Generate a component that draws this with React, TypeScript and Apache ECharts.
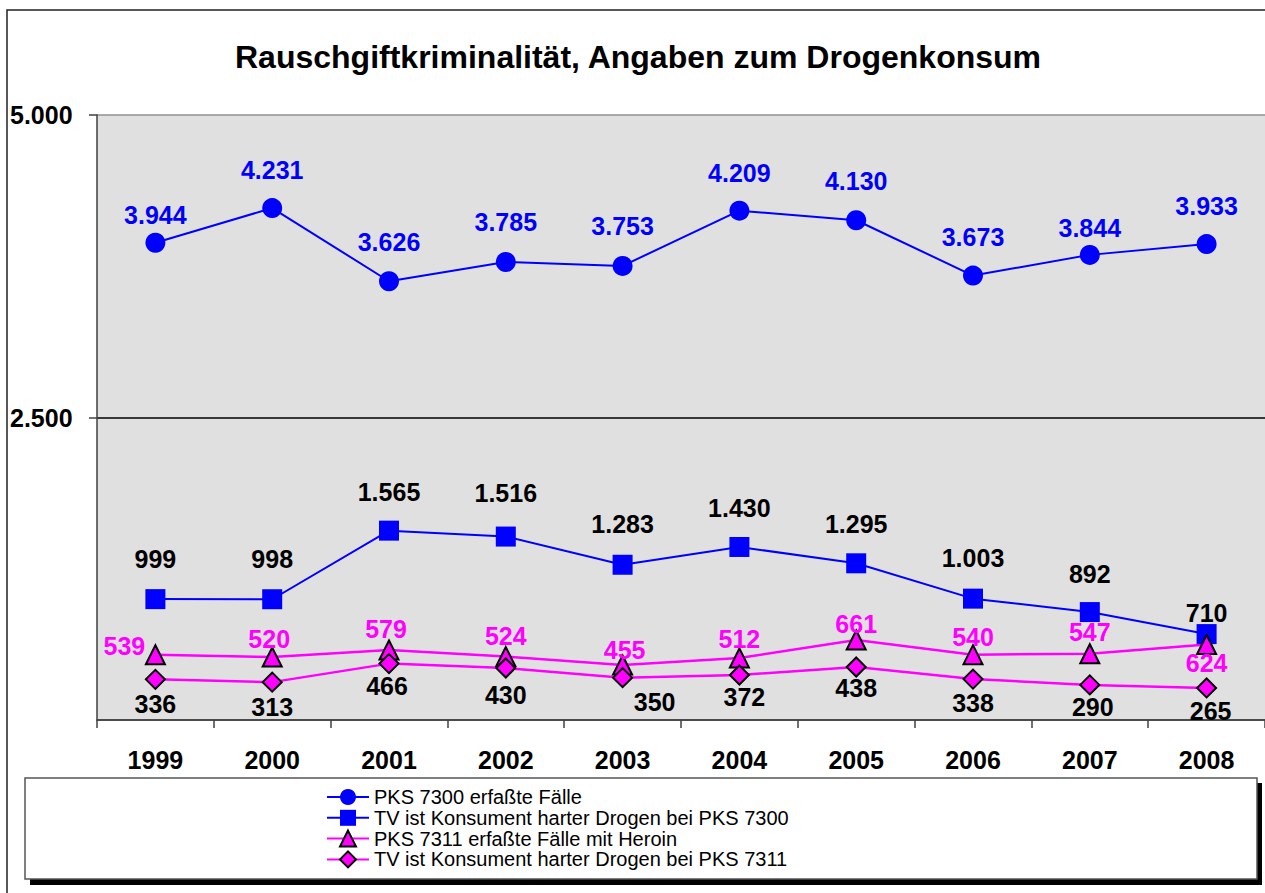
import React, { useEffect, useRef } from "react";
import * as echarts from "echarts";

const years = ["1999", "2000", "2001", "2002", "2003", "2004", "2005", "2006", "2007", "2008"];
const pks7300 = [3944, 4231, 3626, 3785, 3753, 4209, 4130, 3673, 3844, 3933];
const tv7300 = [999, 998, 1565, 1516, 1283, 1430, 1295, 1003, 892, 710];
const pks7311 = [539, 520, 579, 524, 455, 512, 661, 540, 547, 624];
const tv7311 = [336, 313, 466, 430, 350, 372, 438, 338, 290, 265];
const seriesNames = [
  "PKS 7300 erfaßte Fälle",
  "TV ist Konsument harter Drogen bei PKS 7300",
  "PKS 7311 erfaßte Fälle mit Heroin",
  "TV ist Konsument harter Drogen bei PKS 7311",
];
const yTicks = [0, 2500, 5000];
const titleText = "Rauschgiftkriminalität, Angaben zum Drogenkonsum";

// label offsets (styling, not data)
const offCircle = [[0, -28], [0, -38], [0, -39], [0, -40], [0, -40], [0, -38], [0, -39], [0, -39], [0, -27], [0, -38]];
const offSquare = [[0, -40], [0, -40], [0, -39], [0, -44], [0, -41], [0, -39], [0, -39], [0, -41], [0, -38], [0, -21]];
const offTri = [[-31, -9], [-3, -18], [-3, -21], [0, -21], [2, -15], [0, -19], [0, -16], [0, -18], [0, -22], [0, 19]];
const offDia = [[0, 25], [0, 25], [-2, 22], [0, 27], [32, 24], [5, 22], [0, 21], [0, 24], [3, 22], [4, 23]];

const FONT = "'Liberation Sans', Arial, sans-serif";
const fmt = (v: number) => String(v).replace(/\B(?=(\d{3})+(?!\d))/g, ".");

export default function App() {
  const ref = useRef<HTMLDivElement>(null);
  useEffect(() => {
    const chart = echarts.init(ref.current!, undefined, { renderer: "svg" });
    const mk = (vals: number[], offs: number[][]) =>
      vals.map((v, i) => ({ value: v, label: { offset: offs[i] } }));
    const labelBase = (color: string) => ({
      show: true,
      position: "inside",
      fontSize: 25,
      fontWeight: "bold",
      fontFamily: FONT,
      color,
      formatter: (p: any) => fmt(p.value),
    });
    chart.setOption({
      animation: false,
      backgroundColor: "#ffffff",
      graphic: [
        { type: "rect", shape: { x: 7, y: 10, width: 1400, height: 1000 }, style: { fill: "none", stroke: "#222", lineWidth: 1.5 }, z: -10, silent: true },
        { type: "rect", shape: { x: 30, y: 783, width: 1232, height: 102 }, style: { fill: "#000" }, z: -5, silent: true },
        { type: "rect", shape: { x: 25, y: 778, width: 1232, height: 101 }, style: { fill: "#fff", stroke: "#555", lineWidth: 1.5 }, z: -4, silent: true },
        {
          type: "text",
          x: 638,
          y: 57,
          z: 10,
          style: {
            text: titleText,
            align: "center",
            verticalAlign: "middle",
            fontFamily: FONT,
            fontSize: 32,
            fontWeight: "bold",
            fill: "#000",
          },
        },
      ],
      legend: {
        orient: "vertical",
        left: 326,
        top: 787,
        padding: 0,
        itemWidth: 42,
        itemHeight: 20,
        itemGap: 0.8,
        data: seriesNames,
        textStyle: { fontFamily: FONT, fontSize: 20, color: "#000", lineHeight: 20 },
      },
      grid: { left: 97, right: -5, top: 115, bottom: 173, show: true, backgroundColor: "#e0e0e0", borderWidth: 0 },
      xAxis: {
        type: "category",
        data: years,
        boundaryGap: true,
        axisLine: { lineStyle: { color: "#404040", width: 1.5 } },
        axisTick: { show: true, length: 8, lineStyle: { color: "#404040", width: 1.5 } },
        axisLabel: { margin: 27, fontSize: 25, fontWeight: "bold", fontFamily: FONT, color: "#000" },
      },
      yAxis: {
        type: "value",
        min: yTicks[0],
        max: yTicks[yTicks.length - 1],
        interval: yTicks[1] - yTicks[0],
        axisLine: { show: true, lineStyle: { color: "#404040", width: 1.5 } },
        axisTick: { show: true, length: 8, lineStyle: { color: "#404040", width: 1.5 } },
        splitLine: { show: true, lineStyle: { color: ["#404040", "#000000", "#909090"], width: 1.5 } },
        axisLabel: {
          showMinLabel: false,
          align: "left",
          margin: 87,
          fontSize: 25,
          fontWeight: "bold",
          fontFamily: FONT,
          color: "#000",
          formatter: (v: number) => fmt(v),
        },
      },
      series: [
        {
          name: seriesNames[0],
          type: "line",
          data: mk(pks7300, offCircle),
          symbol: "circle",
          symbolSize: 20,
          itemStyle: { color: "#0000ff" },
          lineStyle: { color: "#0000ff", width: 2 },
          label: labelBase("#0000ff"),
        },
        {
          name: seriesNames[1],
          type: "line",
          data: mk(tv7300, offSquare),
          symbol: "rect",
          symbolSize: 20,
          itemStyle: { color: "#0000ff" },
          lineStyle: { color: "#0000ff", width: 2 },
          label: labelBase("#000000"),
        },
        {
          name: seriesNames[2],
          type: "line",
          data: mk(pks7311, offTri),
          symbol: "triangle",
          symbolSize: 19,
          itemStyle: { color: "#ff00ff", borderColor: "#000", borderWidth: 2 },
          lineStyle: { color: "#ff00ff", width: 2.5 },
          label: labelBase("#ff00ff"),
        },
        {
          name: seriesNames[3],
          type: "line",
          data: mk(tv7311, offDia),
          symbol: "diamond",
          symbolSize: 19,
          itemStyle: { color: "#ff00ff", borderColor: "#000", borderWidth: 2 },
          lineStyle: { color: "#ff00ff", width: 2.5 },
          label: labelBase("#000000"),
        },
      ],
    });
    return () => chart.dispose();
  }, []);
  return (
    <div
      ref={ref}
      style={{ position: "fixed", left: 0, top: 0, width: 1265, height: 893, background: "#fff" }}
    />
  );
}
